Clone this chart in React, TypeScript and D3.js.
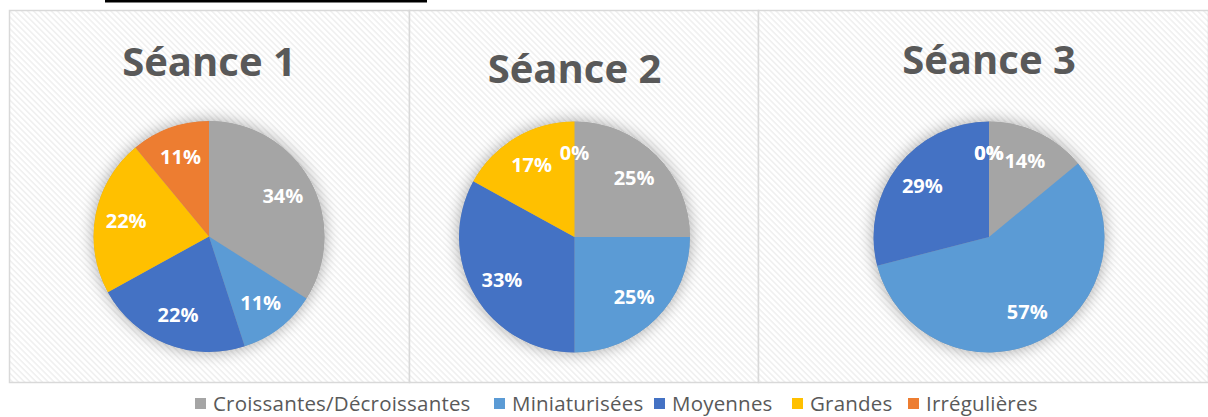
import React from "react";
import * as d3 from "d3";

const categories = ["Croissantes/Décroissantes", "Miniaturisées", "Moyennes", "Grandes", "Irrégulières"];
const colors = ["#A5A5A5", "#5B9BD5", "#4472C4", "#FFC000", "#ED7D31"];

const titles = ["Séance 1", "Séance 2", "Séance 3"];
const seance1 = [34, 11, 22, 22, 11];
const seance2 = [25, 25, 33, 17, 0];
const seance3 = [14, 57, 29, 0, 0];
const seances = [seance1, seance2, seance3];

const W = 1208;
const H = 417;

// panel layout (x0, x1), pie centre, title baseline
const panels = [
  { x0: 9, x1: 409, cx: 209, cy: 236.5, ty: 76 },
  { x0: 409, x1: 758, cx: 574.5, cy: 237, ty: 83 },
  { x0: 758, x1: 1208, cx: 989, cy: 237, ty: 74 },
];
const R = 115.5;
const TOP = 10;
const BOTTOM = 382;

const legendX = [195, 494, 654, 792, 908];

export default function App() {
  const pie = d3.pie<number>().sort(null).value((d) => d).startAngle(0).endAngle(2 * Math.PI);
  const arc = d3.arc<d3.PieArcDatum<number>>().innerRadius(0).outerRadius(R);
  const labelArc = d3.arc<d3.PieArcDatum<number>>().innerRadius(R * 0.46).outerRadius(R);

  return (
    <svg width={W} height={H} style={{ position: "absolute", left: 0, top: 0, fontFamily: "'Open Sans', sans-serif" }}>
      <defs>
        <pattern id="hatch" width="4.2" height="4.2" patternUnits="userSpaceOnUse" patternTransform="rotate(45)">
          <rect width="4.2" height="4.2" fill="#ffffff" />
          <rect width="4.2" height="1.6" fill="#f0f0f0" />
        </pattern>
        <filter id="glow" x="-30%" y="-30%" width="160%" height="160%">
          <feGaussianBlur in="SourceAlpha" stdDeviation="8" />
          <feComponentTransfer>
            <feFuncA type="linear" slope="0.35" />
          </feComponentTransfer>
          <feMerge>
            <feMergeNode />
            <feMergeNode in="SourceGraphic" />
          </feMerge>
        </filter>
      </defs>
      <rect x={0} y={0} width={W} height={H} fill="#ffffff" />
      <rect x={105} y={0} width={322} height={2.5} fill="#000000" />

      {panels.map((p, pi) => {
        const arcs = pie(seances[pi]);
        return (
          <g key={pi}>
            <rect x={p.x0 + 0.5} y={TOP + 0.5} width={p.x1 - p.x0} height={BOTTOM - TOP} fill="url(#hatch)" stroke="#d9d9d9" strokeWidth={1.5} />
            <text x={p.cx} y={p.ty} textAnchor="middle" fontSize={40} fontWeight={700} fill="#595959">
              {titles[pi]}
            </text>
            <g transform={`translate(${p.cx},${p.cy})`}>
              <g filter="url(#glow)">
                <circle r={R} fill="#A5A5A5" />
              </g>
              {arcs.map((a, i) => (
                <path key={i} d={arc(a) || ""} fill={colors[i]} />
              ))}
              {arcs.map((a, i) => {
                const [lx, ly] = labelArc.centroid(a);
                return (
                  <text key={"l" + i} x={lx} y={ly} dy="0.36em" textAnchor="middle" fontSize={20} fontWeight={700} fill="#ffffff">
                    {a.data}%
                  </text>
                );
              })}
            </g>
          </g>
        );
      })}

      <g>
        {categories.map((c, i) => (
          <g key={c} transform={`translate(${legendX[i]},398)`}>
            <rect x={0} y={0} width={11} height={11} fill={colors[i]} />
            <text x={18} y={12.5} fontSize={20.5} fill="#595959" letterSpacing={0.2}>
              {c}
            </text>
          </g>
        ))}
      </g>
    </svg>
  );
}
